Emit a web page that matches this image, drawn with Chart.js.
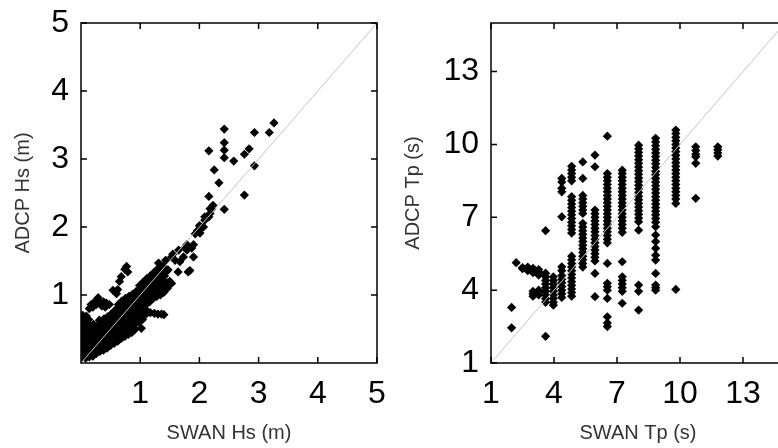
<!DOCTYPE html>
<html>
<head>
<meta charset="utf-8">
<script src="https://cdn.jsdelivr.net/npm/chart.js@4.4.1/dist/chart.umd.min.js"></script>
<style>
  html, body { margin: 0; padding: 0; background: #fff; overflow: hidden; }
  #wrap { position: relative; width: 778px; height: 448px; overflow: hidden; }
  #hsChart { position: absolute; left: 0; top: 0; }
  #tpChart { position: absolute; left: 390px; top: 0; }
</style>
</head>
<body>
<div id="wrap">
  <canvas id="hsChart" width="390" height="448"></canvas>
  <canvas id="tpChart" width="410" height="448"></canvas>
</div>
<script>
const FONT = "'Liberation Sans', Arial, sans-serif";

// Hs panel: [SWAN Hs, ADCP Hs] in m
const hsRange = [0, 5];
const hsTicks = [1, 2, 3, 4, 5];
const hsCore = [
  [0.02,0.08],[0.02,0.16],[0.02,0.24],[0.02,0.32],[0.02,0.40],[0.02,0.48],[0.02,0.56],[0.02,0.64],[0.03,0.70],
  [0.08,0.07],[0.08,0.14],[0.08,0.22],[0.08,0.30],[0.08,0.38],[0.08,0.46],[0.08,0.54],[0.08,0.62],[0.09,0.69],
  [0.14,0.09],[0.14,0.17],[0.14,0.25],[0.14,0.33],[0.14,0.41],[0.14,0.49],[0.14,0.57],[0.13,0.64],
  [0.20,0.10],[0.20,0.18],[0.20,0.26],[0.20,0.34],[0.20,0.42],[0.20,0.50],[0.21,0.57],
  [0.26,0.14],[0.26,0.22],[0.26,0.30],[0.26,0.38],[0.26,0.46],[0.27,0.54],
  [0.32,0.17],[0.32,0.25],[0.32,0.33],[0.32,0.41],[0.32,0.49],[0.33,0.57],[0.31,0.63],
  [0.38,0.19],[0.38,0.27],[0.38,0.35],[0.38,0.43],[0.38,0.51],[0.38,0.59],[0.39,0.65],
  [0.44,0.22],[0.44,0.30],[0.44,0.38],[0.44,0.46],[0.44,0.54],[0.44,0.62],[0.45,0.68],
  [0.50,0.26],[0.50,0.34],[0.50,0.42],[0.50,0.50],[0.50,0.58],[0.50,0.66],[0.51,0.72],
  [0.56,0.29],[0.56,0.37],[0.56,0.45],[0.56,0.53],[0.56,0.61],[0.56,0.69],[0.57,0.77],
  [0.62,0.32],[0.62,0.40],[0.62,0.48],[0.62,0.56],[0.62,0.64],[0.62,0.72],[0.62,0.80],[0.63,0.86],
  [0.68,0.36],[0.68,0.44],[0.68,0.52],[0.68,0.60],[0.68,0.68],[0.68,0.76],[0.68,0.84],[0.69,0.91],
  [0.74,0.39],[0.74,0.47],[0.74,0.55],[0.74,0.63],[0.74,0.71],[0.74,0.79],[0.74,0.87],[0.75,0.95],
  [0.80,0.42],[0.80,0.50],[0.80,0.58],[0.80,0.66],[0.80,0.74],[0.80,0.82],[0.80,0.90],[0.81,0.98],
  [0.86,0.45],[0.86,0.53],[0.86,0.61],[0.86,0.69],[0.86,0.77],[0.86,0.85],[0.86,0.93],[0.87,1.01],
  [0.92,0.50],[0.92,0.58],[0.92,0.66],[0.92,0.74],[0.92,0.82],[0.92,0.90],[0.92,0.98],[0.93,1.05],
  [0.98,0.60],[0.98,0.68],[0.98,0.76],[0.98,0.84],[0.98,0.92],[0.98,1.00],[0.98,1.08],[0.99,1.14],
  [1.04,0.64],[1.04,0.72],[1.04,0.80],[1.04,0.88],[1.04,0.96],[1.04,1.04],[1.04,1.12],[1.05,1.19],
  [1.10,0.78],[1.10,0.86],[1.10,0.94],[1.10,1.02],[1.10,1.10],[1.10,1.18],[1.11,1.24],
  [1.16,0.90],[1.16,0.98],[1.16,1.06],[1.16,1.14],[1.16,1.22],[1.17,1.28],
  [1.22,0.95],[1.22,1.02],[1.22,1.10],[1.22,1.18],[1.22,1.26],[1.23,1.33],
  [1.28,0.98],[1.28,1.06],[1.28,1.14],[1.28,1.22],[1.28,1.30],[1.29,1.38],
  [1.34,1.00],[1.34,1.08],[1.34,1.16],[1.34,1.24],[1.34,1.32],[1.35,1.40],
  [1.40,1.04],[1.40,1.12],[1.40,1.20],[1.41,1.28],
  [1.46,1.10],[1.46,1.18]
];
const hsUpper = [
  [0.14,0.80],[0.17,0.86],[0.20,0.82],[0.23,0.90],[0.26,0.86],[0.29,0.96],[0.32,0.88],[0.35,0.84],
  [0.38,0.90],[0.43,0.88],[0.41,0.82],[0.48,0.86],[0.57,0.76],[0.54,1.07],[0.60,1.02],[0.62,1.08],
  [0.65,1.20],[0.68,1.27],[0.74,1.38],[0.77,1.42],[0.79,1.34],
  [1.02,0.51],[1.10,0.72],[1.17,0.74],[1.24,0.73],[1.30,0.72],[1.36,0.72],[1.40,0.71]
];
const hsTail = [
  [1.31,1.47],[1.39,1.42],[1.43,1.51],[1.45,1.35],[1.47,1.37],[1.50,1.20],[1.53,1.17],[1.53,1.56],
  [1.55,1.60],[1.59,1.51],[1.64,1.34],[1.65,1.66],[1.67,1.49],[1.73,1.56],[1.76,1.70],[1.79,1.66],
  [1.79,1.74],[1.81,1.34],[1.84,1.36],[1.87,1.69],[1.90,1.56],[1.90,1.74],[1.93,1.90],[1.97,1.95],
  [2.00,2.02],[2.01,1.91],[2.04,2.00],[2.07,2.00],[2.09,2.10],[2.09,2.15],[2.16,2.15],[2.18,2.20],
  [2.18,2.27],[2.21,2.27],[2.23,2.32],
  [2.16,2.45],[2.42,2.26],[2.33,2.65],[2.76,2.47],[2.25,2.84],[2.16,3.12],[2.42,3.02],[2.42,3.13],
  [2.42,3.24],[2.42,3.44],[2.58,2.97],[2.76,3.07],[2.84,3.15],[2.93,2.90],[2.93,3.39],[3.18,3.39],
  [3.26,3.53]
];

// Tp panel: SWAN Tp bins (s) and the ADCP Tp values (s) seen in each bin
const tpRange = [1, 15];
const tpTicks = [1, 4, 7, 10, 13];
const tpSwan = [1.98, 2.2, 2.5, 2.75, 3.0, 3.27, 3.6, 3.97, 4.37, 4.84, 5.37, 5.95, 6.54, 7.25, 8.03, 8.84, 9.8, 10.75, 11.8];
const tpAdcp = [
  [3.29, 2.45],
  [5.13],
  [4.93, 4.88],
  [4.95, 4.88, 4.80],
  [4.90, 4.82, 4.72, 3.95, 3.85, 3.75],
  [4.85, 4.75, 4.62, 4.00, 3.90, 3.80],
  [6.45, 4.70, 4.55, 4.40, 4.25, 4.10, 3.95, 3.80, 3.65, 3.50, 2.10],
  [4.55, 4.40, 4.25, 4.10, 3.95, 3.80, 3.66, 3.50, 3.38],
  [8.60, 8.45, 8.20, 8.05, 7.02, 4.96, 4.80, 4.60, 4.45, 4.30, 4.15, 4.00, 3.85, 3.70],
  [9.10, 8.95, 8.80, 8.65, 8.50, 7.85, 7.70, 7.55, 7.40, 7.25, 7.10, 6.95, 6.80, 6.65, 6.50, 6.35,
   5.40, 5.25, 5.10, 4.95, 4.80, 4.65, 4.50, 4.35, 4.20, 4.05, 3.90, 3.75],
  [9.28, 8.60, 7.90, 7.75, 7.60, 7.45, 7.30, 7.16, 6.75, 6.60, 6.45, 6.30, 6.15, 6.00, 5.85, 5.70,
   5.55, 5.40, 5.25, 5.10, 4.95],
  [9.56, 9.08, 7.30, 7.15, 7.00, 6.85, 6.70, 6.55, 6.40, 6.25, 6.10, 5.95, 5.80, 5.65, 5.50, 5.35,
   5.20, 4.69, 3.73],
  [10.34, 8.80, 8.65, 8.50, 8.35, 8.20, 8.05, 7.90, 7.75, 7.60, 7.45, 7.30, 7.15, 7.00, 6.85, 6.70,
   6.55, 6.40, 6.25, 6.10, 5.95, 5.10, 4.28, 4.14, 4.00, 3.66, 2.90, 2.65, 2.50],
  [8.94, 8.80, 8.65, 8.50, 8.35, 8.20, 8.05, 7.90, 7.75, 7.60, 7.45, 7.30, 7.15, 7.00, 6.85, 6.70,
   6.55, 6.38, 5.17, 4.55, 4.40, 4.25, 4.10, 3.95, 3.46],
  [9.97, 9.82, 9.67, 9.52, 9.37, 9.22, 9.07, 8.92, 8.77, 8.62, 8.47, 8.32, 8.17, 8.02, 7.87, 7.72,
   7.57, 7.42, 7.27, 7.12, 6.97, 6.82, 6.47, 4.21, 3.95, 3.18],
  [10.25, 10.10, 9.95, 9.80, 9.65, 9.50, 9.35, 9.20, 9.05, 8.90, 8.75, 8.60, 8.45, 8.30, 8.15, 8.00,
   7.85, 7.70, 7.55, 7.40, 7.25, 7.10, 6.95, 6.80, 6.61, 6.27, 6.00, 5.72, 5.44, 5.24, 4.69, 4.21, 4.10, 4.00],
  [10.59, 10.45, 10.30, 10.15, 10.00, 9.85, 9.70, 9.55, 9.40, 9.25, 9.10, 8.95, 8.80, 8.65, 8.50, 8.35,
   8.20, 8.05, 7.90, 7.75, 7.57, 4.03],
  [9.90, 9.75, 9.60, 9.49, 9.22, 7.78],
  [9.90, 9.78, 9.65, 9.52]
];

function pairsToPoints(pairs) {
  return pairs.map(p => ({ x: p[0], y: p[1] }));
}

function binsToPoints(bins, values) {
  const pts = [];
  bins.forEach((x, i) => {
    values[i].forEach(y => pts.push({ x, y }));
  });
  return pts;
}

// box round the plot area, with the ticks pointing inwards on all four sides
const framePlugin = {
  id: 'frame',
  afterDraw(chart) {
    const { ctx, chartArea: a, scales: { x, y } } = chart;
    const len = 6;
    ctx.save();
    ctx.strokeStyle = '#000';
    ctx.lineWidth = 1.5;
    ctx.strokeRect(a.left, a.top, a.right - a.left, a.bottom - a.top);
    ctx.beginPath();
    x.ticks.forEach(t => {
      const px = x.getPixelForValue(t.value);
      ctx.moveTo(px, a.bottom); ctx.lineTo(px, a.bottom - len);
      ctx.moveTo(px, a.top); ctx.lineTo(px, a.top + len);
    });
    y.ticks.forEach(t => {
      const py = y.getPixelForValue(t.value);
      ctx.moveTo(a.left, py); ctx.lineTo(a.left + len, py);
      ctx.moveTo(a.right, py); ctx.lineTo(a.right - len, py);
    });
    ctx.stroke();
    ctx.restore();
  }
};

function axisOptions(range, ticks, title, isX, boxSize) {
  return {
    type: 'linear',
    min: range[0],
    max: range[1],
    afterBuildTicks: s => { s.ticks = ticks.map(v => ({ value: v })); },
    afterFit: s => {
      if (isX) s.height = boxSize; else s.width = boxSize;
      s.paddingTop = 0; s.paddingBottom = 0; s.paddingLeft = 0; s.paddingRight = 0;
    },
    grid: { display: false, drawTicks: false },
    border: { display: false },
    ticks: {
      font: { family: FONT, size: 32 },
      color: '#000',
      padding: 12,
      autoSkip: false,
      maxRotation: 0
    },
    title: {
      display: true,
      text: title,
      font: { family: FONT, size: 20 },
      color: '#333',
      padding: isX ? { top: 0, bottom: 3 } : { top: 11, bottom: 0 }
    }
  };
}

function makePanel(id, points, range, ticks, xTitle, yTitle, yWidth, padRight) {
  return new Chart(document.getElementById(id), {
    type: 'scatter',
    data: {
      datasets: [
        {
          data: [{ x: range[0], y: range[0] }, { x: range[1], y: range[1] }],
          showLine: true,
          borderColor: '#c4c4c4',
          borderWidth: 1,
          pointRadius: 0,
          order: 0
        },
        {
          data: points,
          pointStyle: 'rectRot',
          pointRadius: 4.6,
          backgroundColor: '#000',
          borderWidth: 0,
          order: 1
        }
      ]
    },
    options: {
      responsive: false,
      animation: false,
      events: [],
      layout: { padding: { top: 23, right: padRight, left: 0, bottom: 0 } },
      plugins: { legend: { display: false }, tooltip: { enabled: false } },
      scales: {
        x: axisOptions(range, ticks, xTitle, true, 85),
        y: axisOptions(range, ticks, yTitle, false, yWidth)
      }
    },
    plugins: [framePlugin]
  });
}

const hsPoints = pairsToPoints(hsCore.concat(hsUpper, hsTail));
const tpPoints = binsToPoints(tpSwan, tpAdcp);

makePanel('hsChart', hsPoints, hsRange, hsTicks, 'SWAN Hs (m)', 'ADCP Hs (m)', 81, 13);
makePanel('tpChart', tpPoints, tpRange, tpTicks, 'SWAN Tp (s)', 'ADCP Tp (s)', 101, 15);
</script>
</body>
</html>
